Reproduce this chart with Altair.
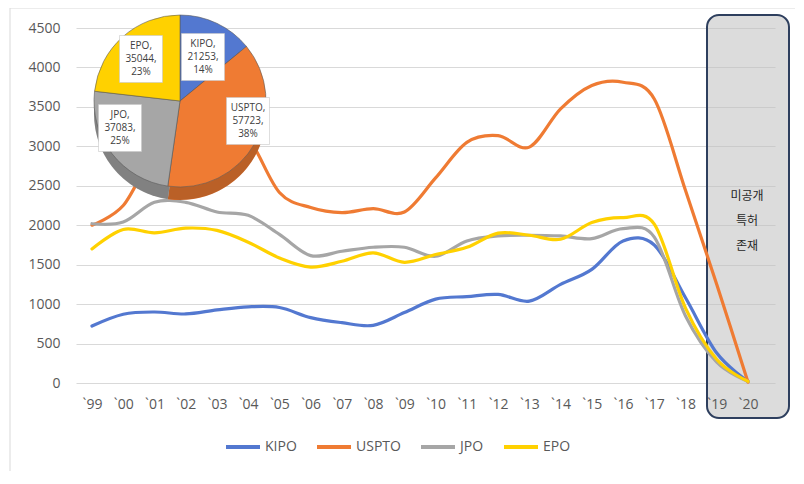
import json
import altair as alt
import pandas as pd

# ---------------- data ----------------
YEARS = ["`99", "`00", "`01", "`02", "`03", "`04", "`05", "`06", "`07", "`08", "`09",
         "`10", "`11", "`12", "`13", "`14", "`15", "`16", "`17", "`18", "`19", "`20"]
OFFICES = ["KIPO", "USPTO", "JPO", "EPO"]

KIPO = [722, 871, 900, 875, 926, 965, 957, 829, 765, 731, 893,
        1063, 1095, 1123, 1038, 1250, 1441, 1801, 1750, 1080, 380, 20]
USPTO = [2000, 2250, 2900, 3050, 3300, 3100, 2415, 2224, 2160, 2210, 2168,
         2600, 3050, 3135, 2990, 3474, 3771, 3813, 3600, 2440, 1250, 10]
JPO = [2019, 2040, 2290, 2290, 2168, 2125, 1884, 1615, 1670, 1721, 1721,
       1607, 1800, 1864, 1873, 1864, 1830, 1957, 1850, 850, 264, 20]
EPO = [1700, 1946, 1904, 1963, 1934, 1785, 1585, 1470, 1543, 1650, 1530,
       1628, 1720, 1900, 1873, 1822, 2034, 2097, 2013, 950, 298, 21]

PIE_TOTALS = [21253, 57723, 37083, 35044]
PIE_SHARES = ["14%", "38%", "25%", "23%"]
NOTE = ["미공개", "특허", "존재"]

# ---------------- styles / layout ----------------
COLORS = ["#5378D0", "#EF7B33", "#A6A6A6", "#FFD100"]
FONT = "Open Sans"
KFONT = "Noto Sans CJK KR"
TEXT_GRAY = "#595959"
PIE_CENTER = (104, 73)
PIE_RADIUS = 86
PIE_DEPTH = 13
PIE_LINE_H = 13
NOTE_LINE_H = 25
# label box centres (plot pixels), same order as OFFICES
PIE_LABEL_POS = [(127, 29), (172, 93), (44, 100), (65, 31)]

rows = []
for name, vals in zip(OFFICES, [KIPO, USPTO, JPO, EPO]):
    for i, v in enumerate(vals):
        rows.append({"idx": i, "office": name, "value": v})
lines_df = pd.DataFrame(rows)

pie_df = pd.DataFrame({
    "office": OFFICES,
    "total": PIE_TOTALS,
    "share": PIE_SHARES,
    "ord": list(range(len(OFFICES))),
})
pie_df["label"] = [f"{o},\n{t},\n{s}" for o, t, s in zip(OFFICES, PIE_TOTALS, PIE_SHARES)]

one = pd.DataFrame({"a": [0]})
color_scale = alt.Scale(domain=OFFICES, range=COLORS)

x_enc = alt.X(
    "idx:Q",
    scale=alt.Scale(domain=[-0.512, 21.864], nice=False, zero=False),
    axis=alt.Axis(values=list(range(len(YEARS))), labelExpr=json.dumps(YEARS) + "[datum.value]",
                  grid=False, domain=False, ticks=False, labelPadding=14, title=None,
                  zindex=1, labelFlush=False, labelOverlap=False),
)
y_enc = alt.Y(
    "value:Q",
    scale=alt.Scale(domain=[0, 4500], nice=False),
    axis=alt.Axis(values=list(range(0, 4501, 500)), format="d", grid=True, domain=False,
                  ticks=False, labelPadding=16, title=None, zindex=0),
)

frame = alt.Chart(one).mark_rect(fill="transparent", stroke="#D9D9D9", strokeWidth=1).encode(
    x=alt.value(-66), x2=alt.value(721), y=alt.value(-20), y2=alt.value(449)
)

highlight = alt.Chart(one).mark_rect(
    fill="#BFBFBF", fillOpacity=0.55, stroke="#2E3F5E", strokeWidth=2, cornerRadius=12
).encode(x=alt.value(631), x2=alt.value(713), y=alt.value(-13), y2=alt.value(390))

lines = alt.Chart(lines_df).mark_line(
    interpolate="cardinal", strokeWidth=3.2, strokeCap="round", strokeJoin="round"
).encode(
    x=x_enc,
    y=y_enc,
    color=alt.Color(
        "office:N", scale=color_scale, sort=OFFICES,
        legend=alt.Legend(orient="none", legendX=148, legendY=400, direction="horizontal",
                          title=None, symbolType="stroke", symbolStrokeWidth=4, symbolSize=1156,
                          labelFontSize=14, labelColor=TEXT_GRAY, labelFont=FONT,
                          columnPadding=12, labelOffset=3, padding=0),
    ),
)

pie_side = alt.Chart(pie_df).mark_arc(radius=PIE_RADIUS).encode(
    theta=alt.Theta("total:Q", stack=True),
    order=alt.Order("ord:Q"),
    color=alt.Color("office:N", scale=color_scale, legend=None),
    x=alt.value(PIE_CENTER[0]), y=alt.value(PIE_CENTER[1] + PIE_DEPTH),
)
pie_shade = alt.Chart(one).mark_arc(
    radius=PIE_RADIUS, theta=0, theta2=6.2832, fill="#000000", fillOpacity=0.22
).encode(x=alt.value(PIE_CENTER[0]), y=alt.value(PIE_CENTER[1] + PIE_DEPTH))
pie_top = alt.Chart(pie_df).mark_arc(radius=PIE_RADIUS, stroke="#5A5A5A", strokeWidth=0.6).encode(
    theta=alt.Theta("total:Q", stack=True),
    order=alt.Order("ord:Q"),
    color=alt.Color("office:N", scale=color_scale, legend=None),
    x=alt.value(PIE_CENTER[0]), y=alt.value(PIE_CENTER[1]),
)

label_layers = []
for name, (px, py) in zip(OFFICES, PIE_LABEL_POS):
    box = alt.Chart(one).mark_rect(fill="white", stroke="#C8C8C8", strokeWidth=0.6).encode(
        x=alt.value(px - 21.5), x2=alt.value(px + 21.5), y=alt.value(py - 23.5), y2=alt.value(py + 23.5)
    )
    txt = alt.Chart(pie_df).transform_filter(alt.datum.office == name).mark_text(
        font=FONT, fontSize=10, lineHeight=PIE_LINE_H, color="#404040", align="center",
        baseline="middle", lineBreak="\n"
    ).encode(text="label:N", x=alt.value(px), y=alt.value(py - PIE_LINE_H))
    label_layers += [box, txt]

note = alt.Chart(one).mark_text(
    font=KFONT, fontSize=12, lineHeight=NOTE_LINE_H, color="#262626", align="center", baseline="middle"
).encode(text=alt.value(NOTE), x=alt.value(671), y=alt.value(193 - NOTE_LINE_H))

chart = alt.layer(
    frame, highlight, lines, pie_side, pie_shade, pie_top, *label_layers, note
).properties(
    width=699, height=355,
    autosize=alt.AutoSizeParams(type="none"),
    padding={"left": 68, "top": 20, "right": 20, "bottom": 88},
).configure_view(stroke="transparent").configure_axis(
    labelFont=FONT, labelFontSize=14, labelColor=TEXT_GRAY, gridColor="#D9D9D9"
)

chart.save("out.html", embed_options={"renderer": "svg", "actions": False})
